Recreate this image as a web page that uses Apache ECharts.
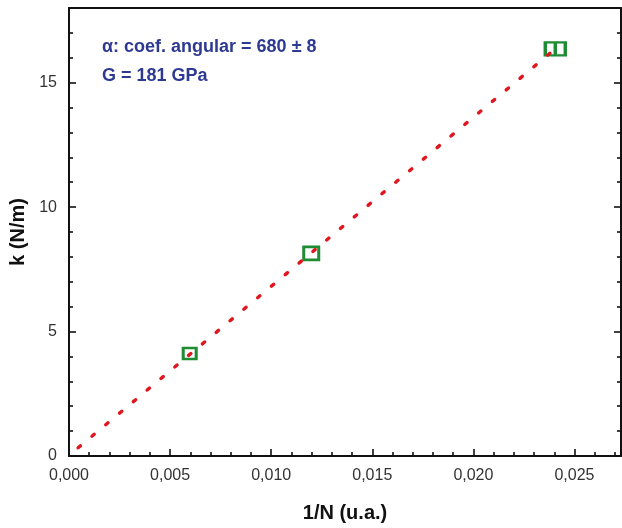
<!DOCTYPE html>
<html>
<head>
<meta charset="utf-8">
<script src="https://cdn.jsdelivr.net/npm/echarts@6/dist/echarts.min.js"></script>
<style>
  html, body { margin: 0; padding: 0; background: #fff; }
  #chart { width: 622px; height: 528px; }
</style>
</head>
<body>
<div id="chart"></div>
<script>
// medidas (1/N, k)
var invN = [0.00597, 0.01198, 0.02405];
var kVal = [4.12, 8.14, 16.36];

// reta ajustada (extremos)
var fitX = [0.00045, 0.02405];
var fitY = [0.33, 16.36];

var xTicks = [0, 0.005, 0.010, 0.015, 0.020, 0.025];
var yTicks = [0, 5, 10, 15];

var notes = ['α: coef. angular = 680 ± 8', 'G = 181 GPa'];

var chart = echarts.init(document.getElementById('chart'));

var points = invN.map(function (x, i) { return [x, kVal[i]]; });
var fit = fitX.map(function (x, i) { return [x, fitY[i]]; });

var markSizes = [[13, 11], [15, 13], [20, 13]];
var markShapes = ['rect', 'rect', 'path://M0,0H20V13H0Z M10,0V13'];

function baseAxis() {
    return {
        type: 'value',
        splitLine: { show: false },
        axisLine: { show: true, onZero: false, lineStyle: { color: '#111', width: 2 } },
        axisTick: { show: true, inside: true, length: 7, lineStyle: { color: '#111', width: 1.6 } },
        minorTick: { show: true, splitNumber: 5, length: 4, lineStyle: { color: '#111', width: 1.6 } },
        axisLabel: { show: false }
    };
}

var xMain = baseAxis();
xMain.position = 'bottom';
xMain.min = 0; xMain.max = 0.0273; xMain.interval = 0.005;
xMain.axisLabel = {
    show: true, margin: 12, color: '#333', fontSize: 16, fontFamily: 'Liberation Sans',
    showMaxLabel: false,
    formatter: function (v) {
        return xTicks.some(function (t) { return Math.abs(t - v) < 1e-9; }) ? v.toFixed(3).replace('.', ',') : '';
    }
};
xMain.name = '1/N (u.a.)';
xMain.nameLocation = 'middle';
xMain.nameGap = 47;
xMain.nameTextStyle = { fontSize: 20, fontWeight: 'bold', color: '#111', fontFamily: 'Liberation Sans' };

var xTop = baseAxis();
xTop.position = 'top';
xTop.min = 0; xTop.max = 0.0273; xTop.interval = 0.005;
xTop.axisTick = { show: false };
xTop.minorTick = { show: false };

var yMain = baseAxis();
yMain.position = 'left';
yMain.min = 0; yMain.max = 18; yMain.interval = 5;
yMain.axisLabel = {
    show: true, margin: 12, color: '#333', fontSize: 16, fontFamily: 'Liberation Sans',
    showMaxLabel: false,
    formatter: function (v) { return yTicks.indexOf(v) >= 0 ? String(v) : ''; }
};
yMain.name = 'k (N/m)';
yMain.nameLocation = 'middle';
yMain.nameGap = 32;
yMain.nameTextStyle = { fontSize: 20, fontWeight: 'bold', color: '#111', fontFamily: 'Liberation Sans' };

var yRight = baseAxis();
yRight.position = 'right';
yRight.min = 0; yRight.max = 18; yRight.interval = 5;

var option = {
    backgroundColor: '#fff',
    animation: false,
    grid: { left: 69, top: 8, right: 1, bottom: 69, containLabel: false },
    xAxis: [xMain, xTop],
    yAxis: [yMain, yRight],
    graphic: notes.map(function (t, i) {
        return {
            type: 'text', left: 102, top: 38 + i * 29, z: 10,
            style: { text: t, fill: '#2e3a92', font: 'bold 18px "Liberation Sans"' }
        };
    }),
    series: [
        {
            name: 'medidas',
            type: 'scatter',
            xAxisIndex: 0, yAxisIndex: 0,
            data: points,
            symbol: function (v, p) { return markShapes[p.dataIndex]; },
            symbolSize: function (v, p) { return markSizes[p.dataIndex]; },
            symbolKeepAspect: false,
            itemStyle: { color: '#fff', borderColor: '#1f8c33', borderWidth: 2.8, opacity: 1 },
            z: 2
        },
        {
            name: 'ajuste',
            type: 'line',
            xAxisIndex: 0, yAxisIndex: 0,
            data: fit,
            symbol: 'none',
            lineStyle: { color: '#e0161e', width: 3.4, type: [3, 15], cap: 'round' },
            z: 3
        }
    ]
};
chart.setOption(option);
</script>
</body>
</html>
